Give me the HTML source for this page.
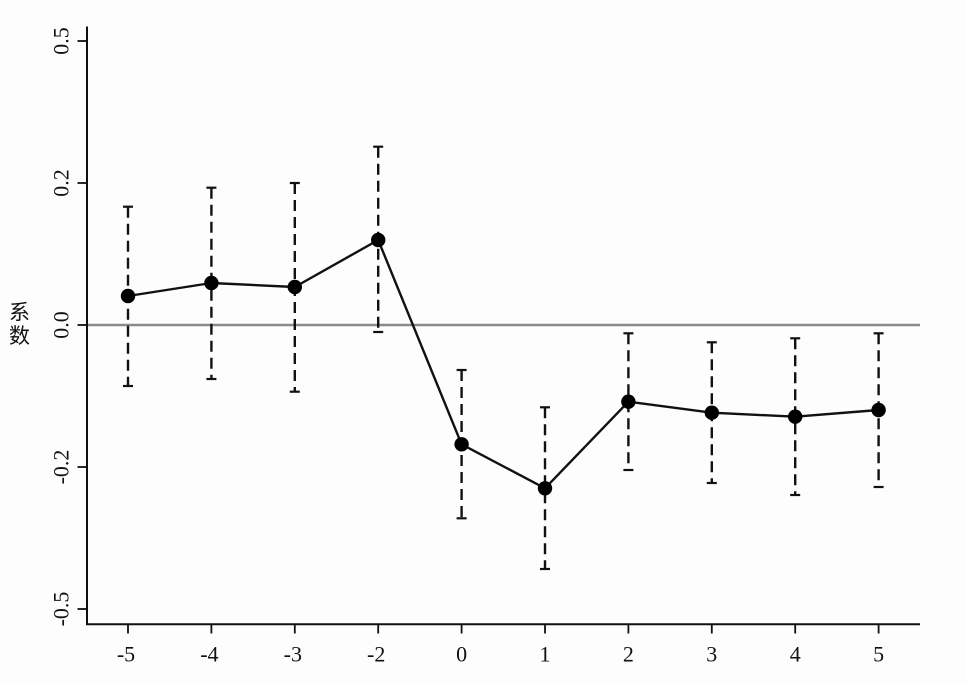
<!DOCTYPE html>
<html><head><meta charset="utf-8"><style>
html,body{margin:0;padding:0;background:#fff;}
svg{display:block;}
text{font-family:"Liberation Serif","Noto Serif CJK SC",serif;fill:#111;font-size:22px;}
text.cjk{font-family:"Noto Sans CJK SC","WenQuanYi Zen Hei",sans-serif;font-size:21px;}
</style></head><body>
<svg width="966" height="684" viewBox="0 0 966 684" xmlns="http://www.w3.org/2000/svg">
<rect width="966" height="684" fill="#fdfdfd"/>
<!-- zero line -->
<line x1="87" y1="325" x2="920" y2="325" stroke="#8a8a8a" stroke-width="2.4"/>
<!-- axes -->
<line x1="87" y1="26.5" x2="87" y2="625" stroke="#111" stroke-width="2"/>
<line x1="86" y1="624.3" x2="920" y2="624.3" stroke="#111" stroke-width="2"/>
<!-- y ticks -->
<g stroke="#111" stroke-width="1.8">
<line x1="77.5" y1="41" x2="87" y2="41"/>
<line x1="77.5" y1="183" x2="87" y2="183"/>
<line x1="77.5" y1="325" x2="87" y2="325"/>
<line x1="77.5" y1="467" x2="87" y2="467"/>
<line x1="77.5" y1="609" x2="87" y2="609"/>
</g>
<g text-anchor="middle">
<text style="font-size:22px" transform="translate(68.5,41) rotate(-90)">0.5</text>
<text style="font-size:22px" transform="translate(68.5,183) rotate(-90)">0.2</text>
<text style="font-size:22px" transform="translate(68.5,325) rotate(-90)">0.0</text>
<text style="font-size:22px" transform="translate(68.5,467) rotate(-90)">-0.2</text>
<text style="font-size:22px" transform="translate(68.5,609) rotate(-90)">-0.5</text>
</g>
<!-- y title -->
<g text-anchor="middle">
<text class="cjk" style="font-size:21px" x="19.5" y="319.5">系</text>
<text class="cjk" style="font-size:21px" x="19.5" y="343">数</text>
</g>
<!-- x ticks -->
<g stroke="#111" stroke-width="1.8">
<line x1="128" y1="624" x2="128" y2="633.5"/>
<line x1="211.4" y1="624" x2="211.4" y2="633.5"/>
<line x1="294.8" y1="624" x2="294.8" y2="633.5"/>
<line x1="378.2" y1="624" x2="378.2" y2="633.5"/>
<line x1="461.6" y1="624" x2="461.6" y2="633.5"/>
<line x1="545" y1="624" x2="545" y2="633.5"/>
<line x1="628.4" y1="624" x2="628.4" y2="633.5"/>
<line x1="711.8" y1="624" x2="711.8" y2="633.5"/>
<line x1="795.2" y1="624" x2="795.2" y2="633.5"/>
<line x1="878.6" y1="624" x2="878.6" y2="633.5"/>
</g>
<g text-anchor="middle">
<text style="font-size:22px" x="126" y="661.5">-5</text>
<text style="font-size:22px" x="209.4" y="661.5">-4</text>
<text style="font-size:22px" x="292.8" y="661.5">-3</text>
<text style="font-size:22px" x="376.2" y="661.5">-2</text>
<text style="font-size:22px" x="461.6" y="661.5">0</text>
<text style="font-size:22px" x="545" y="661.5">1</text>
<text style="font-size:22px" x="628.4" y="661.5">2</text>
<text style="font-size:22px" x="711.8" y="661.5">3</text>
<text style="font-size:22px" x="795.2" y="661.5">4</text>
<text style="font-size:22px" x="878.6" y="661.5">5</text>
</g>
<!-- error bars -->
<g stroke="#111" stroke-width="2.4" stroke-dasharray="11,6" fill="none">
<line x1="128" y1="206.7" x2="128" y2="386"/>
<line x1="211.4" y1="187.7" x2="211.4" y2="379"/>
<line x1="294.8" y1="183" x2="294.8" y2="391.7"/>
<line x1="378.2" y1="146.7" x2="378.2" y2="332"/>
<line x1="461.6" y1="370" x2="461.6" y2="518.3"/>
<line x1="545" y1="407.3" x2="545" y2="569"/>
<line x1="628.4" y1="333.3" x2="628.4" y2="470"/>
<line x1="711.8" y1="342.3" x2="711.8" y2="483"/>
<line x1="795.2" y1="338.3" x2="795.2" y2="495"/>
<line x1="878.6" y1="333.3" x2="878.6" y2="487"/>
</g>
<!-- caps -->
<g stroke="#111" stroke-width="2.2">
<line x1="123" y1="206.7" x2="133" y2="206.7"/><line x1="123" y1="386" x2="133" y2="386"/>
<line x1="206.4" y1="187.7" x2="216.4" y2="187.7"/><line x1="206.4" y1="379" x2="216.4" y2="379"/>
<line x1="289.8" y1="183" x2="299.8" y2="183"/><line x1="289.8" y1="391.7" x2="299.8" y2="391.7"/>
<line x1="373.2" y1="146.7" x2="383.2" y2="146.7"/><line x1="373.2" y1="332" x2="383.2" y2="332"/>
<line x1="456.6" y1="370" x2="466.6" y2="370"/><line x1="456.6" y1="518.3" x2="466.6" y2="518.3"/>
<line x1="540" y1="407.3" x2="550" y2="407.3"/><line x1="540" y1="569" x2="550" y2="569"/>
<line x1="623.4" y1="333.3" x2="633.4" y2="333.3"/><line x1="623.4" y1="470" x2="633.4" y2="470"/>
<line x1="706.8" y1="342.3" x2="716.8" y2="342.3"/><line x1="706.8" y1="483" x2="716.8" y2="483"/>
<line x1="790.2" y1="338.3" x2="800.2" y2="338.3"/><line x1="790.2" y1="495" x2="800.2" y2="495"/>
<line x1="873.6" y1="333.3" x2="883.6" y2="333.3"/><line x1="873.6" y1="487" x2="883.6" y2="487"/>
</g>
<!-- connecting line -->
<polyline fill="none" stroke="#111" stroke-width="2.4" stroke-linejoin="round" points="128,296 211.4,283 294.8,287 378.2,240 461.6,444.3 545,488.3 628.4,401.7 711.8,412.7 795.2,416.7 878.6,410"/>
<!-- markers -->
<g fill="#000">
<circle cx="128" cy="296" r="7.2"/>
<circle cx="211.4" cy="283" r="7.2"/>
<circle cx="294.8" cy="287" r="7.2"/>
<circle cx="378.2" cy="240" r="7.2"/>
<circle cx="461.6" cy="444.3" r="7.2"/>
<circle cx="545" cy="488.3" r="7.2"/>
<circle cx="628.4" cy="401.7" r="7.2"/>
<circle cx="711.8" cy="412.7" r="7.2"/>
<circle cx="795.2" cy="416.7" r="7.2"/>
<circle cx="878.6" cy="410" r="7.2"/>
</g>
</svg>
</body></html>
